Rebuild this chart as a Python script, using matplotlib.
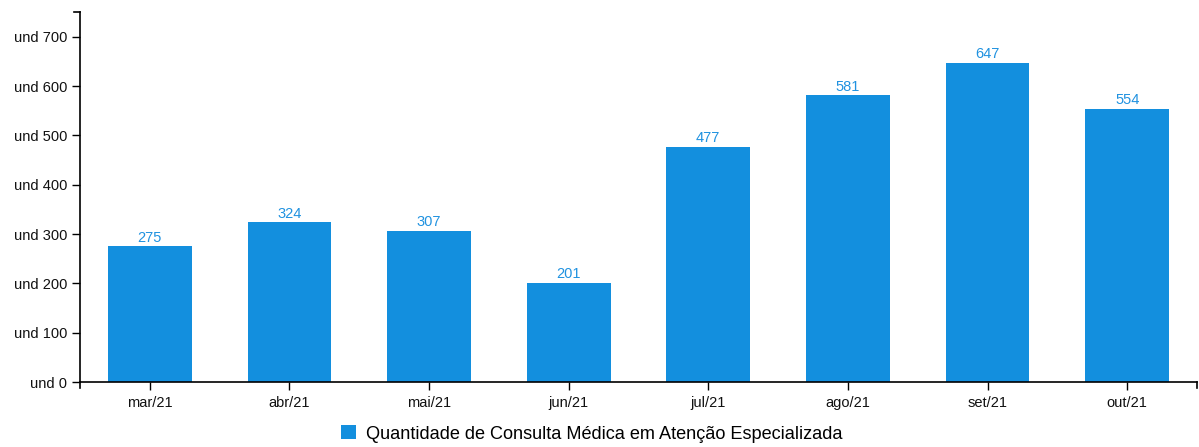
import matplotlib
matplotlib.use("Agg")
import matplotlib.pyplot as plt
from matplotlib.lines import Line2D
from matplotlib.patches import Patch

plt.rcParams['font.family'] = ['Liberation Sans', 'DejaVu Sans']

months = ["mar/21", "abr/21", "mai/21", "jun/21", "jul/21", "ago/21", "set/21", "out/21"]
consultas = [275, 324, 307, 201, 477, 581, 647, 554]
y_ticks = [0, 100, 200, 300, 400, 500, 600, 700]
y_tick_labels = [f"und {v}" for v in y_ticks]
series_name = "Quantidade de Consulta Médica em Atenção Especializada"

bar_color = "#138fde"
label_color = "#2092e0"

W, H, DPI = 1199, 447, 100
fig = plt.figure(figsize=(W / DPI, H / DPI), dpi=DPI)
left, right, top, bottom = 80, 1197, 12, 382
ax = fig.add_axes([left / W, (H - bottom) / H, (right - left) / W, (bottom - top) / H])

x = list(range(len(months)))
ax.bar(x, consultas, width=0.6, color=bar_color, zorder=2)
for xi, v in zip(x, consultas):
    ax.text(xi, v + 3, str(v), ha="center", va="bottom", color=label_color, fontsize=10.5)

ax.set_xlim(-0.5, len(months) - 0.5)
ax.set_ylim(0, 750)
ax.set_yticks(y_ticks)
ax.set_yticklabels(y_tick_labels, fontsize=10.5)
ax.set_xticks(x)
ax.set_xticklabels(months, fontsize=10.5)
ax.tick_params(axis="both", length=6, width=1, color="black", labelcolor="#111111")
ax.tick_params(axis="y", pad=3)
ax.tick_params(axis="x", pad=4)

for s in ["top", "right"]:
    ax.spines[s].set_visible(False)
for s in ["left", "bottom"]:
    ax.spines[s].set_linewidth(1.2)
    ax.spines[s].set_color("black")

# outer end ticks of the axis domains
tick_ax = 6 / (right - left)
tick_ay = 6 / (bottom - top)
ax.add_line(Line2D([0, -tick_ax], [1, 1], transform=ax.transAxes, color="black", lw=1.2, clip_on=False))
ax.add_line(Line2D([0, 0], [0, -tick_ay], transform=ax.transAxes, color="black", lw=1.2, clip_on=False))
ax.add_line(Line2D([1, 1], [0, -tick_ay], transform=ax.transAxes, color="black", lw=1.2, clip_on=False))

handle = Patch(facecolor=bar_color, edgecolor="none")
fig.legend([handle], [series_name], loc="center", bbox_to_anchor=(592 / W, 1 - 434 / H),
           frameon=False, fontsize=13.1, handlelength=0.8, handleheight=0.8,
           handletextpad=0.6, borderpad=0)

fig.savefig("out.png", dpi=DPI)
